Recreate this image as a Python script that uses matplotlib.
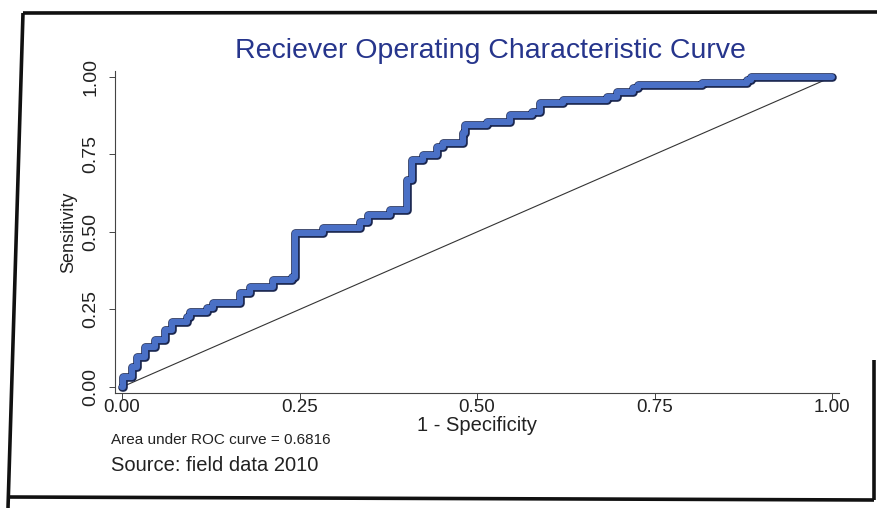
import matplotlib.pyplot as plt
import matplotlib.patheffects as pe
from matplotlib.lines import Line2D

plt.rcParams['font.family'] = ['Liberation Sans', 'DejaVu Sans']

# ROC points: 1 - specificity vs sensitivity
fpr = [0.000, 0.001, 0.014, 0.021, 0.032, 0.046, 0.061, 0.070, 0.092, 0.096,
       0.120, 0.128, 0.166, 0.180, 0.213, 0.239, 0.244, 0.283, 0.335, 0.346,
       0.377, 0.401, 0.408, 0.424, 0.444, 0.452, 0.480, 0.483, 0.514, 0.546,
       0.577, 0.589, 0.621, 0.683, 0.697, 0.720, 0.727, 0.817, 0.880, 0.885,
       1.000]
tpr = [0.000, 0.032, 0.065, 0.097, 0.129, 0.152, 0.184, 0.210, 0.226, 0.242,
       0.255, 0.271, 0.303, 0.323, 0.345, 0.355, 0.497, 0.513, 0.532, 0.555,
       0.571, 0.668, 0.732, 0.748, 0.774, 0.787, 0.819, 0.845, 0.855, 0.877,
       0.887, 0.916, 0.926, 0.935, 0.952, 0.965, 0.974, 0.981, 0.990, 1.000,
       1.000]
ticks = [0.0, 0.25, 0.5, 0.75, 1.0]
tick_labels = ['0.00', '0.25', '0.50', '0.75', '1.00']
auc_text = 'Area under ROC curve = 0.6816'
source_text = 'Source: field data 2010'

fig = plt.figure(figsize=(8.77, 5.08), dpi=100)
ax = fig.add_axes([0.131, 0.226, 0.826, 0.635])

# reference line
ax.plot([0, 1], [0, 1], color='#333333', lw=0.8)

# ROC curve, thick blue with dark edge
ax.plot(fpr, tpr, drawstyle='steps-post', color='#4a70c6', lw=4.4,
        solid_joinstyle='round', solid_capstyle='round',
        path_effects=[pe.Stroke(linewidth=6.2, foreground='#1b2750'), pe.Normal()])

ax.set_xlim(-0.01, 1.01)
ax.set_ylim(-0.02, 1.02)
for s in ['top', 'right']:
    ax.spines[s].set_visible(False)
for s in ['left', 'bottom']:
    ax.spines[s].set_color('#444444')
    ax.spines[s].set_linewidth(0.8)

ax.set_xticks(ticks)
ax.set_xticklabels(tick_labels, fontsize=13.5, color='#222222')
ax.set_yticks(ticks)
ax.set_yticklabels(tick_labels, fontsize=14, color='#222222', rotation=90, va='center')
ax.tick_params(direction='out', length=4, width=0.7, color='#444444')
ax.tick_params(axis='x', pad=0)
ax.tick_params(axis='y', pad=7)

ax.set_xlabel('1 - Specificity', fontsize=14.5, color='#222222', labelpad=0)
ax.set_ylabel('Sensitivity', fontsize=13, color='#222222', labelpad=4)
fig.text(0.559, 0.9, 'Reciever Operating Characteristic Curve', fontsize=20.5,
         color='#26358c', ha='center', va='center')

fig.text(0.127, 0.134, auc_text, fontsize=11, color='#222222', va='center')
fig.text(0.126, 0.083, source_text, fontsize=14.5, color='#222222', va='center')

# scanned page border
W, H = 877, 508
def border(xs, ys):
    fig.add_artist(Line2D([x / W for x in xs], [1 - y / H for y in ys],
                          color='#111111', lw=2.6, solid_capstyle='butt'))
border([23, 877], [13, 12])
border([23, 8], [13, 508])
border([8, 874], [497, 500])
border([874, 874], [360, 500])

fig.savefig('out.png', dpi=100, facecolor='white')
